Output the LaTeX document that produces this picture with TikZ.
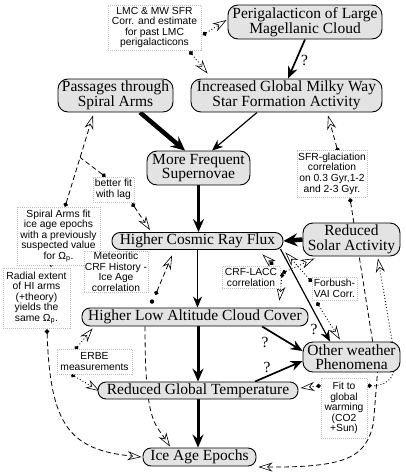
\documentclass[tikz,border=0pt]{standalone}
\usepackage{fontspec}
\newfontfamily\bxserif{Liberation Serif}
\newfontfamily\ntsans{Liberation Sans}
\usetikzlibrary{arrows.meta,calc,backgrounds}
\begin{document}
\begin{tikzpicture}[x=1pt,y=-1pt,
  box/.style={draw, line width=0.9pt, fill=black!11, rounded corners=10pt, align=center,
    font=\bxserif\fontsize{15.5}{14.5}\selectfont, inner sep=1pt},
  pill/.style={box, rounded corners=8pt},
  note/.style={draw=black!25, line width=0.5pt, dash pattern=on 1pt off 1pt, fill=white, align=center,
    font=\ntsans\fontsize{10.3}{10.6}\selectfont, inner sep=1pt},
  qmark/.style={font=\bxserif\fontsize{15.5}{16}\selectfont, inner sep=0pt},
  thinarr/.style={line width=1.2pt, -{Stealth[length=11pt,width=9pt,inset=3.5pt]}},
  midarr/.style={line width=1.7pt, -{Stealth[length=12pt,width=10pt,inset=4pt]}},
  medthick/.style={line width=3pt, -{Stealth[length=13pt,width=11pt,inset=4.5pt]}},
  bigarr/.style={line width=4.5pt, -{Stealth[length=14pt,width=13pt,inset=5pt]}},
  dashline/.style={line width=0.8pt, dash pattern=on 5pt off 3pt},
  dotline/.style={line width=0.9pt, dash pattern=on 0.9pt off 2.2pt},
  linkarr/.style={{Circle[length=4.5pt]}-{Stealth[open,fill=white,length=14pt,width=9pt,inset=4.5pt,line width=0.6pt]}},
  linkdot/.style={{Circle[length=4.5pt]}-}
]
\useasboundingbox (0,0) rectangle (405,474);

% main nodes
\node[box, minimum width=154, minimum height=34] (peri) at (305,22) {Perigalacticon of Large\\Magellanic Cloud};
\node[box, minimum width=191, minimum height=33] (sfr) at (286.5,95.5) {Increased Global Milky Way\\Star Formation Activity};
\node[box, minimum width=115, minimum height=33] (spiral) at (115.5,95.5) {Passages through\\Spiral Arms};
\node[box, minimum width=103, minimum height=34] (sn) at (198.5,168) {More Frequent\\Supernovae};
\node[pill, minimum width=171, minimum height=17] (crf) at (197.5,241) {Higher Cosmic Ray Flux};
\node[box, minimum width=97, minimum height=33] (solar) at (351.5,239.5) {Reduced\\Solar Activity};
\node[pill, minimum width=226, minimum height=18] (cloud) at (195,317) {Higher Low Altitude Cloud Cover};
\node[box, minimum width=97, minimum height=30] (other) at (351.5,357) {Other weather\\Phenomena};
\node[pill, minimum width=200, minimum height=17] (temp) at (198,390.5) {Reduced Global Temperature};
\node[pill, minimum width=113, minimum height=18] (ice) at (199.5,457) {Ice Age Epochs};

% notes
\node[note, minimum width=93, minimum height=45] (lmc) at (154.5,27.5) {LMC \& MW SFR\\Corr. and estimate\\for past LMC\\perigalacticons};
\node[note, minimum width=70, minimum height=47] (sfrg) at (332,173.5) {SFR-glaciation\\correlation\\on 0.3 Gyr,1-2\\and 2-3 Gyr.};
\node[note, minimum width=41, minimum height=25] (better) at (113.5,189.5) {better fit\\with lag};
\node[note, minimum width=83, minimum height=58] (sparms) at (58.5,236) {Spiral Arms fit\\ice age epochs\\with a previously\\suspected value\\for Ω\textsubscript{p}.};
\node[note, minimum width=67, minimum height=60] (radial) at (36.5,298) {Radial extent\\of HI arms\\(+theory)\\yields the\\same Ω\textsubscript{p}.};
\node[note, minimum width=64, minimum height=36] (meteor) at (116,272) {Meteoritic\\CRF History -\\Ice Age\\correlation};
\node[note, minimum width=58, minimum height=22] (crflacc) at (251,277.5) {CRF-LACC\\correlation};
\node[note, minimum width=45, minimum height=23] (forbush) at (334.5,288.5) {Forbush-\\VAI Corr.};
\node[note, minimum width=75, minimum height=25] (erbe) at (94.5,361.5) {ERBE\\measurements};
\node[note, minimum width=46, minimum height=60] (fit) at (344,408) {Fit to\\global\\warming\\(CO2\\+Sun)};

% question marks
\node[qmark] (q1) at ($(peri.south)+(-0.5,21)$) {?};
\node[qmark] (q2) at ($(cloud.south)+(70,16)$) {?};
\node[qmark] (q3) at ($(temp.north)+(69,-14)$) {?};
\node[qmark] (q4) at ($(other.north)+(-37.5,-12)$) {?};

\begin{scope}[on background layer]
% causal arrows
\draw[midarr] (peri.south) -- ($(sfr.north)+(1.5,0)$);
\draw[thinarr] ($(sfr.south)+(-29.5,0)$) -- ($(sn.north)+(13.5,0)$);
\draw[bigarr] ($(spiral.south)+(24.5,0)$) -- ($(sn.north)+(-13.5,0)$);
\draw[medthick] (sn.south) -- (sn.south |- crf.north);
\draw[bigarr] (solar.west) -- (crf.east);
\draw[thinarr] (crf.south) -- (crf.south |- cloud.north);
\draw[medthick] (temp.north |- cloud.south) -- (temp.north);
\draw[medthick] (temp.south) -- (temp.south |- ice.north);
\draw[midarr] ($(cloud.south)+(67,0)$) -- ($(other.west)+(0,-6)$);
\draw[midarr] ($(temp.north)+(57,0)$) -- ($(other.west)+(0,4)$);
\draw[thinarr] ($(crf.east)+(-3,8)$) -- ($(other.north)+(-21.5,0)$);

% LMC note
\draw[dotline, linkarr] ($(lmc.east)+(1.5,7.5)$) -- ($(peri.west)+(-1,-2)$);
\draw[dotline, linkarr] ($(lmc.south)+(35,1)$) -- ($(sfr.north west)+(17,-5)$);

% SFR-glaciation note
\draw[dashline, linkarr] ($(sfrg.north)+(6,2)$) -- ($(sfr.south)+(41.5,3)$);
\draw[dashline, linkarr] ($(sfrg.south)+(18,1)$) -- ($(other.south)+(26,0)$) -- ($(other.south)+(22,50)$)
  .. controls ($(other.south)+(15,85)$) and ($(other.south)+(-5,95)$) .. ($(ice.east)+(2,10)$);

% spiral arms fit and better fit
\coordinate (sa) at ($(sparms.north)+(6.5,0)$);
\coordinate (sb) at ($(spiral.south)+(-22.5,3)$);
\coordinate (br) at ($(sa)!0.54!(sb)$);
\draw[dashline, linkarr] (sa) -- (sb);
\draw[dashline, linkdot] ($(better.north)+(-8,0)$) -- (br);
\draw[dashline, linkarr] ($(better.south)+(18.5,1)$) -- ($(crf.north)+(-47.5,-2)$);

% radial extent
\draw[dashline, linkdot] ($(radial.north)+(14.5,-1)$) -- ($(sparms.south)+(-7.5,0)$);
\draw[dashline, linkarr] ($(radial.south)+(10.5,1)$) .. controls ($(radial.south)+(13.5,97)$) and ($(ice.west)+(-73,-7)$) .. ($(ice.west)+(-1,0)$);

% meteoritic
\draw[dashline, linkarr] ($(meteor.south east)+(7,2)$) -- ($(crf.south)+(-25.5,5.5)$);
\fill ($(cloud.north)+(-43,-6)$) circle (2.2);

% CRF-LACC
\draw[dotline, linkarr] ($(crflacc.north east)+(-7,-1.5)$) -- ($(crf.south east)+(-21,4.5)$);
\draw[dotline, linkarr] ($(crflacc.east)+(2,-4.5)$) -- ($(cloud.north east)+(-29,-7)$);
\draw[dotline, linkarr] ($(crflacc.east)+(2,-4.5)$) -- ($(solar.south west)+(12,2)$);

% Forbush
\draw[dotline, linkarr] ($(forbush.north west)+(0,5)$) -- ($(crf.south east)+(2,2.5)$);
\draw[dotline, linkarr] ($(forbush.south west)+(5,2)$) -- ($(other.north)+(-11.5,-2)$);

% Fit to global warming
\draw[dotline, linkarr] ($(fit.north east)+(0,8)$) .. controls ($(fit.north east)+(23,8)$) and ($(other.east)+(-4,18)$) .. ($(other.east)+(-6,-2)$) -- ($(solar.south)+(26.5,2)$);
\draw[dotline, linkarr] ($(fit.north west)+(0,8)$) -- ($(temp.east)+(2,-2.5)$);

% ERBE
\draw[dotline, linkarr] ($(erbe.north)+(-19.5,1)$) -- ($(cloud.south west)+(11,2)$);
\draw[dotline, linkarr] ($(erbe.south)+(-23.5,0)$) -- ($(temp.west)+(2,0.5)$);

% cloud cover to ice age (behind temperature)
\draw[dashline, -{Stealth[open,fill=white,length=14pt,width=9pt,inset=4.5pt,line width=0.6pt]}] ($(cloud.south)+(-50,0)$) .. controls ($(cloud.south)+(-50,95)$) and ($(ice.north)+(-45,-25)$) .. ($(ice.north)+(-29.5,-1)$);
\end{scope}
\end{tikzpicture}
\end{document}
